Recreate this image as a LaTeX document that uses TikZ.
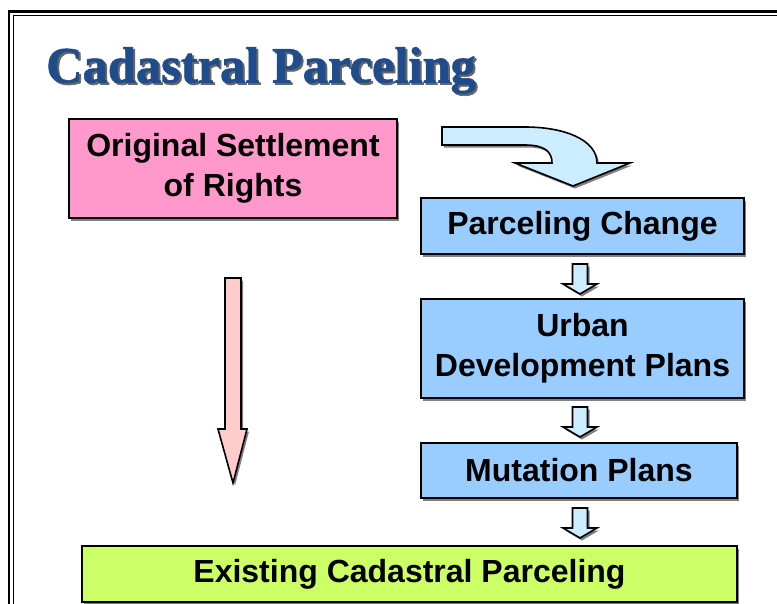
\documentclass[tikz,border=0pt]{standalone}
\usepackage{fontspec}
\setmainfont{Liberation Sans}
\newfontfamily\titlefont{Liberation Serif}[BoldFeatures={FakeBold=1.2}]
\usetikzlibrary{shadows,calc}
\definecolor{titleblue}{RGB}{31,76,138}
\definecolor{pinkbox}{RGB}{255,153,204}
\definecolor{bluebox}{RGB}{153,204,255}
\definecolor{lightblue}{RGB}{204,236,255}
\definecolor{pinkarrow}{RGB}{255,204,204}
\definecolor{greenbox}{RGB}{204,255,102}
\newcommand\titletext{\titlefont\bfseries\fontsize{51}{60}\selectfont\scalebox{0.99}[1]{Cadastral Parceling}}
\begin{document}
\begin{tikzpicture}[x=1pt,y=-1pt,
  shad/.style={drop shadow={shadow xshift=2pt,shadow yshift=-2.5pt,fill=black!50,opacity=1}},
  boxsty/.style={draw=black,line width=2pt,shad,inner sep=0pt,align=center,
    font=\fontsize{32}{40}\selectfont\bfseries,text=black},
  arrowsty/.style={draw=black,line width=1.6pt,fill=lightblue,line join=miter,shad},
  downarr/.pic={\path[arrowsty] (-7.5,0) -- (7.5,0) -- (7.5,20) -- (17,20) -- (0,30) -- (-17,20) -- (-7.5,20) -- cycle;}
]
\useasboundingbox (0,0) rectangle (777,603);
\clip (0,0) rectangle (777,603);
\fill[white] (0,0) rectangle (777,603);
% frame
\draw[line width=2.2pt] (9,11.5) rectangle (820,640);
\draw[line width=1.8pt] (13.5,15.5) rectangle (815,635);
% title with shadow
\node[anchor=base west,inner sep=0pt] (title) at (46,82.5)
  {\rlap{\hspace{2pt}\raisebox{-2pt}{\color{black!60}\titletext}}{\color{titleblue}\titletext}};
% boxes
\node[boxsty,fill=pinkbox,minimum width=328pt,minimum height=99pt] (orig) at (233,168.5)
  {Original Settlement\\of Rights};
\node[boxsty,fill=bluebox,minimum width=323pt,minimum height=56pt] (pc) at (582.5,226)
  {Parceling Change};
\node[boxsty,fill=bluebox,minimum width=323pt,minimum height=99pt] (urban) at (582.5,348.5)
  {Urban\\Development Plans};
\node[boxsty,fill=bluebox,minimum width=316pt,minimum height=55pt] (mut) at (579,470.5)
  {Mutation Plans};
\node[boxsty,fill=greenbox,minimum width=655pt,minimum height=56pt] (exist) at (409.5,574)
  {Existing Cadastral Parceling};
% curved block arrow
\path[arrowsty] (442,127) -- (525,127)
  .. controls (565,127) and (597,140) .. (597,163)
  -- (630,163) -- (573,186) -- (515,163) -- (552,163)
  .. controls (552,152) and (545,145) .. (525,145)
  -- (442,145) -- cycle;
% small block arrows
\pic at ($(pc.south)+(-2.5,9)$) {downarr};
\pic at ($(urban.south)+(-2.5,8)$) {downarr};
\pic at ($(mut.south)+(1,9)$) {downarr};
% pink long arrow
\path[arrowsty,fill=pinkarrow] ($(orig.south)+(-8,59)$) -- ($(orig.south)+(8,59)$)
  -- ($(orig.south)+(8,210)$) -- ($(orig.south)+(14,210)$) -- ($(orig.south)+(0,264)$)
  -- ($(orig.south)+(-15,210)$) -- ($(orig.south)+(-8,210)$) -- cycle;
\end{tikzpicture}
\end{document}
